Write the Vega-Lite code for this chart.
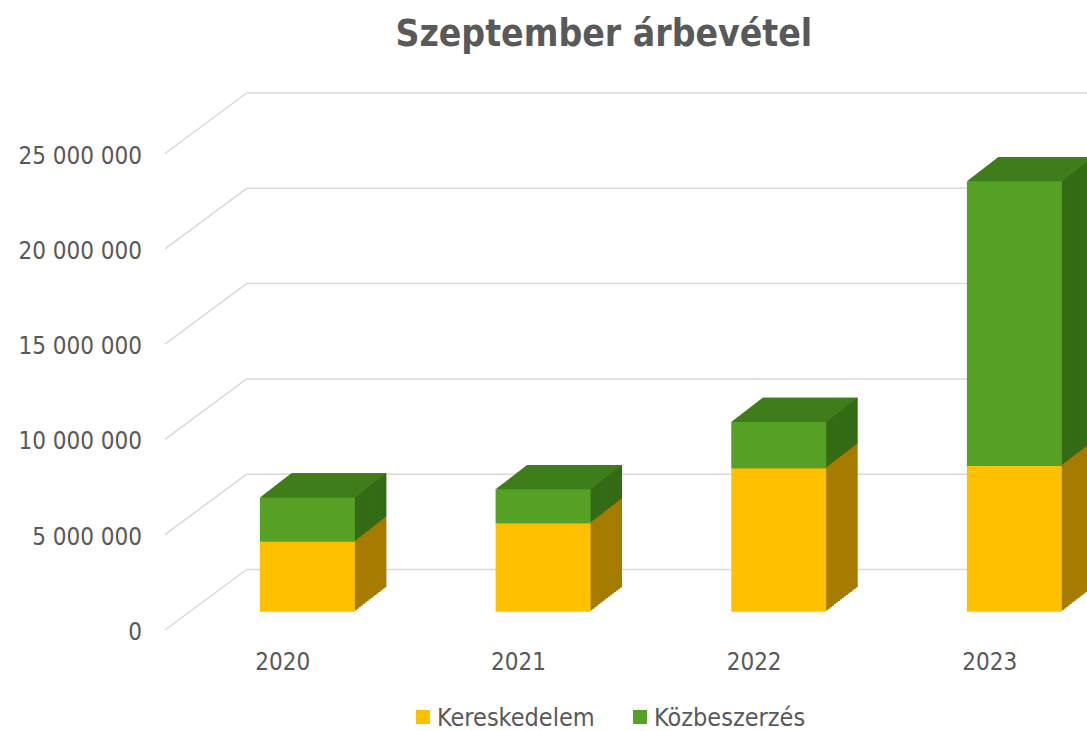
{
  "$schema": "https://vega.github.io/schema/vega-lite/v6.json",
  "width": 840.3,
  "height": 476.5,
  "autosize": {"type": "none"},
  "padding": {"left": 246.7, "top": 93, "right": 0, "bottom": 161.5},
  "background": "white",
  "config": {
    "view": {"stroke": null},
    "font": "DejaVu Sans Condensed",
    "locale": {"number": {"decimal": ",", "thousands": " ", "grouping": [3], "currency": ["", " Ft"]}}
  },
  "title": {
    "text": "Szeptember árbevétel",
    "font": "DejaVu Sans Condensed",
    "fontWeight": "bold",
    "fontSize": 37,
    "color": "#595959",
    "anchor": "middle",
    "frame": "group",
    "dx": -63,
    "offset": 38
  },
  "resolve": {"scale": {"x": "independent"}},
  "datasets": {
    "sales": [
      {"year": "2020", "cat": "Kereskedelem", "value": 3680000},
      {"year": "2020", "cat": "Közbeszerzés", "value": 2310000},
      {"year": "2021", "cat": "Kereskedelem", "value": 4640000},
      {"year": "2021", "cat": "Közbeszerzés", "value": 1780000},
      {"year": "2022", "cat": "Kereskedelem", "value": 7530000},
      {"year": "2022", "cat": "Közbeszerzés", "value": 2420000},
      {"year": "2023", "cat": "Kereskedelem", "value": 7650000},
      {"year": "2023", "cat": "Közbeszerzés", "value": 14930000}
    ],
    "ticks": [{"v": 0}, {"v": 5000000}, {"v": 10000000}, {"v": 15000000}, {"v": 20000000}, {"v": 25000000}]
  },
  "layer": [
    {
      "data": {"name": "ticks"},
      "mark": {"type": "rule", "color": "#d9d9d9", "strokeWidth": 1.5},
      "encoding": {
        "y": {"field": "v", "type": "quantitative", "scale": {"domain": [0, 25000000], "nice": false}, "axis": null}
      }
    },
    {
      "data": {"name": "ticks"},
      "mark": {"type": "rule", "color": "#d9d9d9", "strokeWidth": 1.5, "yOffset": 60.5, "y2Offset": 0},
      "encoding": {
        "y": {"field": "v", "type": "quantitative", "axis": null},
        "y2": {"field": "v"},
        "x": {"value": -81.7},
        "x2": {"value": 0}
      }
    },
    {
      "data": {"name": "ticks"},
      "mark": {"type": "text", "align": "right", "baseline": "alphabetic", "fontSize": 24, "color": "#595959", "font": "DejaVu Sans Condensed", "yOffset": 70.5},
      "encoding": {
        "y": {"field": "v", "type": "quantitative", "axis": null},
        "x": {"value": -104.7},
        "text": {"field": "v", "type": "quantitative", "format": ",d"}
      }
    },
    {
      "data": {"name": "sales"},
      "encoding": {
        "x": {
          "field": "year", "type": "nominal",
          "scale": {"range": [-57, 885.4], "paddingInner": 0.597, "paddingOuter": 0.298},
          "axis": {"title": null, "domain": false, "ticks": false, "tickSize": 0, "labelAngle": 0, "labelOffset": -24.6, "labelPadding": 92.5, "labelBaseline": "middle", "labelFontSize": 24, "labelColor": "#595959", "labelFont": "DejaVu Sans Condensed"}
        },
        "y": {
          "field": "value", "type": "quantitative", "stack": "zero",
          "axis": null
        }
      },
      "layer": [
        {
          "encoding": {
            "fill": {"field": "cat", "type": "nominal", "scale": {"domain": ["Kereskedelem", "Közbeszerzés"], "range": ["#A67C00", "#346B15"]}, "legend": null},
            "order": {"field": "cat", "sort": "ascending"}
          },
          "layer": [
            {"mark": {"type": "bar", "xOffset": 31.5, "x2Offset": 31.5, "yOffset": 17.9, "y2Offset": 17.9}},
            {"mark": {"type": "bar", "xOffset": 29.53, "x2Offset": 29.53, "yOffset": 19.42, "y2Offset": 19.42}},
            {"mark": {"type": "bar", "xOffset": 27.56, "x2Offset": 27.56, "yOffset": 20.94, "y2Offset": 20.94}},
            {"mark": {"type": "bar", "xOffset": 25.59, "x2Offset": 25.59, "yOffset": 22.46, "y2Offset": 22.46}},
            {"mark": {"type": "bar", "xOffset": 23.63, "x2Offset": 23.63, "yOffset": 23.98, "y2Offset": 23.98}},
            {"mark": {"type": "bar", "xOffset": 21.66, "x2Offset": 21.66, "yOffset": 25.49, "y2Offset": 25.49}},
            {"mark": {"type": "bar", "xOffset": 19.69, "x2Offset": 19.69, "yOffset": 27.01, "y2Offset": 27.01}},
            {"mark": {"type": "bar", "xOffset": 17.72, "x2Offset": 17.72, "yOffset": 28.53, "y2Offset": 28.53}},
            {"mark": {"type": "bar", "xOffset": 15.75, "x2Offset": 15.75, "yOffset": 30.05, "y2Offset": 30.05}},
            {"mark": {"type": "bar", "xOffset": 13.78, "x2Offset": 13.78, "yOffset": 31.57, "y2Offset": 31.57}},
            {"mark": {"type": "bar", "xOffset": 11.81, "x2Offset": 11.81, "yOffset": 33.09, "y2Offset": 33.09}},
            {"mark": {"type": "bar", "xOffset": 9.84, "x2Offset": 9.84, "yOffset": 34.61, "y2Offset": 34.61}},
            {"mark": {"type": "bar", "xOffset": 7.88, "x2Offset": 7.88, "yOffset": 36.13, "y2Offset": 36.13}},
            {"mark": {"type": "bar", "xOffset": 5.91, "x2Offset": 5.91, "yOffset": 37.64, "y2Offset": 37.64}},
            {"mark": {"type": "bar", "xOffset": 3.94, "x2Offset": 3.94, "yOffset": 39.16, "y2Offset": 39.16}},
            {"mark": {"type": "bar", "xOffset": 1.97, "x2Offset": 1.97, "yOffset": 40.68, "y2Offset": 40.68}}
          ]
        },
        {
          "transform": [{"aggregate": [{"op": "sum", "field": "value", "as": "total"}], "groupby": ["year"]}],
          "mark": {"type": "point", "shape": "M-0.59375,0L0.59375,0L0.9875,-0.30375L-0.2,-0.30375Z", "size": 25600, "filled": true, "color": "#3F7D1B", "opacity": 1, "strokeWidth": 0, "yOffset": 42.2},
          "encoding": {"y": {"field": "total", "type": "quantitative", "axis": null}}
        },
        {
          "mark": {"type": "bar", "yOffset": 42.2, "y2Offset": 42.2},
          "encoding": {
            "order": {"field": "cat", "sort": "ascending"},
            "color": {
              "field": "cat", "type": "nominal",
              "scale": {"domain": ["Kereskedelem", "Közbeszerzés"], "range": ["#FFC000", "#56A125"]},
              "legend": null
            }
          }
        }
      ]
    },
    {
      "data": {"name": "sales"},
      "transform": [{"aggregate": [{"op": "count", "as": "n"}], "groupby": ["cat"]}],
      "encoding": {
        "x": {"field": "cat", "type": "nominal", "scale": {"type": "point", "padding": 0, "domain": ["Kereskedelem", "Közbeszerzés"], "range": [176.3, 393.3]}, "axis": null}
      },
      "layer": [
        {
          "mark": {"type": "point", "shape": "square", "size": 196, "filled": true, "opacity": 1, "strokeWidth": 0},
          "encoding": {
            "y": {"value": 624},
            "color": {"field": "cat", "type": "nominal", "legend": null}
          }
        },
        {
          "mark": {"type": "text", "align": "left", "baseline": "alphabetic", "fontSize": 25, "color": "#595959", "font": "DejaVu Sans Condensed", "xOffset": 14},
          "encoding": {
            "y": {"value": 633},
            "text": {"field": "cat", "type": "nominal"}
          }
        }
      ]
    }
  ]
}
